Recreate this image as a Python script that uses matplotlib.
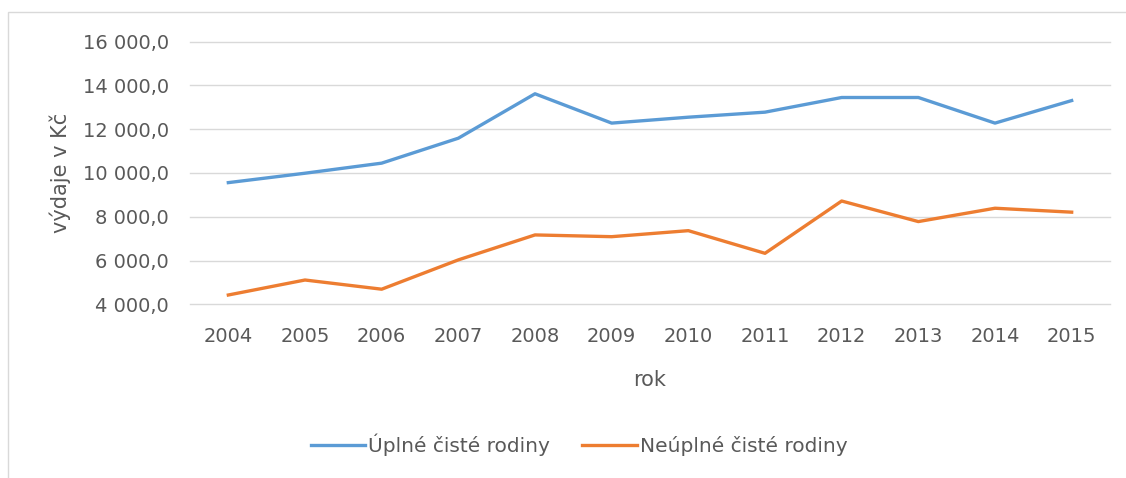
import matplotlib.pyplot as plt
from matplotlib.patches import Rectangle
from matplotlib.ticker import FuncFormatter, MultipleLocator

roky = ['2004', '2005', '2006', '2007', '2008', '2009',
        '2010', '2011', '2012', '2013', '2014', '2015']
uplne = [9560, 9990, 10450, 11590, 13620, 12280,
         12550, 12780, 13450, 13450, 12280, 13310]
neuplne = [4425, 5110, 4690, 6030, 7170, 7090,
           7365, 6330, 8720, 7780, 8390, 8210]

seda = '#595959'
plt.rcParams['font.family'] = ['DejaVu Sans']
plt.rcParams['font.size'] = 14


def cz_format(v, pos):
    s = '{:,.1f}'.format(v)
    return s.replace(',', ' ').replace('.', ',')


fig = plt.figure(figsize=(11.26, 4.78), dpi=100)
fig.patches.append(Rectangle((8/1126, -0.1), 1.2, 1.1 - 12/478,
                             transform=fig.transFigure, fill=False,
                             edgecolor='#D9D9D9', lw=1))
ax = fig.add_axes([190/1126, 1 - 304.3/478, 920/1126, 262.6/478])

x = range(len(roky))
ax.plot(x, uplne, color='#5B9BD5', lw=2.4, label='Úplné čisté rodiny')
ax.plot(x, neuplne, color='#ED7D31', lw=2.4, label='Neúplné čisté rodiny')

ax.set_xlim(-0.5, len(roky) - 0.5)
ax.set_ylim(4000, 16000)
ax.yaxis.set_major_locator(MultipleLocator(2000))
ax.yaxis.set_major_formatter(FuncFormatter(cz_format))
ax.set_xticks(list(x))
ax.set_xticklabels(roky)
ax.grid(axis='y', color='#D9D9D9', lw=1)
for g in ax.get_ygridlines():
    g.set_clip_on(False)
ax.set_axisbelow(True)
for s in ax.spines.values():
    s.set_visible(False)
ax.tick_params(axis='both', length=0, colors=seda, labelsize=14)
ax.tick_params(axis='y', pad=15)
ax.tick_params(axis='x', pad=16)

ax.set_xlabel('rok', color=seda, fontsize=15, va='center')
ax.xaxis.set_label_coords(0.5, -0.288)
ax.set_ylabel('výdaje v Kč', color=seda, fontsize=15, va='center')
ax.yaxis.set_label_coords(-0.141, 0.5)

leg = fig.legend(loc='center', bbox_to_anchor=(579/1126, 1 - 445/478), ncol=2,
                 frameon=False, handlelength=2.7, handletextpad=0.15,
                 columnspacing=1.6, fontsize=14.5)
for t in leg.get_texts():
    t.set_color(seda)

fig.savefig('out.png', dpi=100)
